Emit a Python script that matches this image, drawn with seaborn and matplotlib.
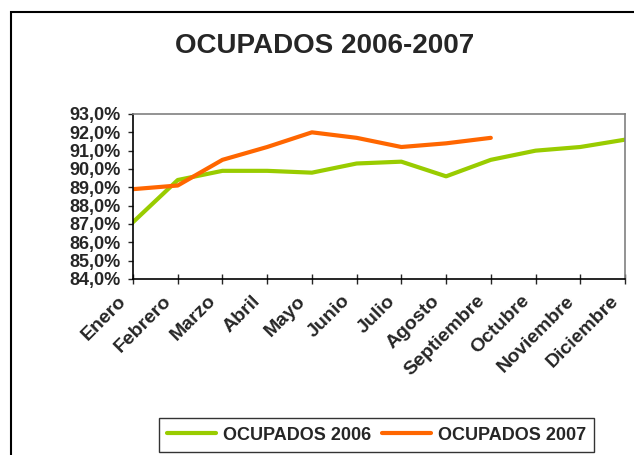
import numpy as np
import pandas as pd
import matplotlib
matplotlib.use("Agg")
import matplotlib.pyplot as plt
import matplotlib.transforms as mtransforms
import seaborn as sns
from matplotlib.patches import Rectangle
from matplotlib.ticker import FuncFormatter

sns.set_style("white")
plt.rcParams["font.family"] = ["Liberation Sans", "DejaVu Sans"]
plt.rcParams["font.weight"] = "bold"

# data (percent)
meses = ["Enero", "Febrero", "Marzo", "Abril", "Mayo", "Junio", "Julio",
         "Agosto", "Septiembre", "Octubre", "Noviembre", "Diciembre"]
ocupados_2006 = [87.1, 89.4, 89.9, 89.9, 89.8, 90.3, 90.4, 89.6, 90.5, 91.0, 91.2, 91.6]
ocupados_2007 = [88.9, 89.1, 90.5, 91.2, 92.0, 91.7, 91.2, 91.4, 91.7, np.nan, np.nan, np.nan]
series_names = ["OCUPADOS 2006", "OCUPADOS 2007"]
colores = ["#99CC00", "#FF6600"]

df = pd.DataFrame({
    "mes": list(range(len(meses))) * 2,
    "valor": ocupados_2006 + ocupados_2007,
    "serie": [series_names[0]] * len(meses) + [series_names[1]] * len(meses),
}).dropna()

fig = plt.figure(figsize=(6.34, 4.55), dpi=100)
ax = fig.add_axes([133 / 634, 1 - 279 / 455, (625 - 133) / 634, (279 - 114) / 455])

sns.lineplot(data=df, x="mes", y="valor", hue="serie", palette=colores,
             linewidth=3, ax=ax, legend=True)

ax.set_xlim(0, len(meses) - 1)
ax.set_ylim(84, 93)
ax.set_yticks(np.arange(84, 93.5, 1))
ax.yaxis.set_major_formatter(FuncFormatter(lambda v, p: f"{v:.1f}%".replace(".", ",")))
ax.set_xticks(range(len(meses)))
ax.set_xticklabels(meses, rotation=45, ha="right", va="top", rotation_mode="anchor")
ax.set_xlabel("")
ax.set_ylabel("")

for side in ["top", "right"]:
    ax.spines[side].set_color("#808080")
    ax.spines[side].set_linewidth(1.2)
for side in ["left", "bottom"]:
    ax.spines[side].set_color("black")
    ax.spines[side].set_linewidth(1.2)

ax.tick_params(axis="y", direction="out", length=3.6, width=1, left=True,
               labelsize=13, pad=5)
ax.tick_params(axis="x", direction="inout", length=7, width=1, bottom=True,
               labelsize=14, pad=4)
# shift rotated month labels left like the original
shift = mtransforms.ScaledTranslation(-15 / 100, -3 / 100, fig.dpi_scale_trans)
for lbl in ax.get_xticklabels():
    lbl.set_fontweight("bold")
    lbl.set_transform(lbl.get_transform() + shift)
for lbl in ax.get_yticklabels():
    lbl.set_fontweight("bold")

fig.text(325 / 634, 1 - 46 / 455, "OCUPADOS 2006-2007", ha="center", va="center",
         fontsize=20, fontweight="bold")

ax.get_legend().remove()
handles, labels = ax.get_legend_handles_labels()
leg = fig.legend(handles, labels, loc="center", bbox_to_anchor=(376.5 / 634, 1 - 435 / 455),
                 ncol=2, frameon=True, fancybox=False, handlelength=2.7,
                 columnspacing=0.6, handletextpad=0.4, borderpad=0.45,
                 prop={"size": 13, "weight": "bold"})
leg.get_frame().set_edgecolor("black")
leg.get_frame().set_linewidth(1)
for line in leg.get_lines():
    line.set_linewidth(3)

# outer chart border (runs off the right and bottom edges)
fig.patches.append(Rectangle((11 / 634, -0.1), 1.2, 1 - 12 / 455 + 0.1,
                             transform=fig.transFigure, fill=False,
                             edgecolor="black", linewidth=1.5))

fig.savefig("out.png", dpi=100)
